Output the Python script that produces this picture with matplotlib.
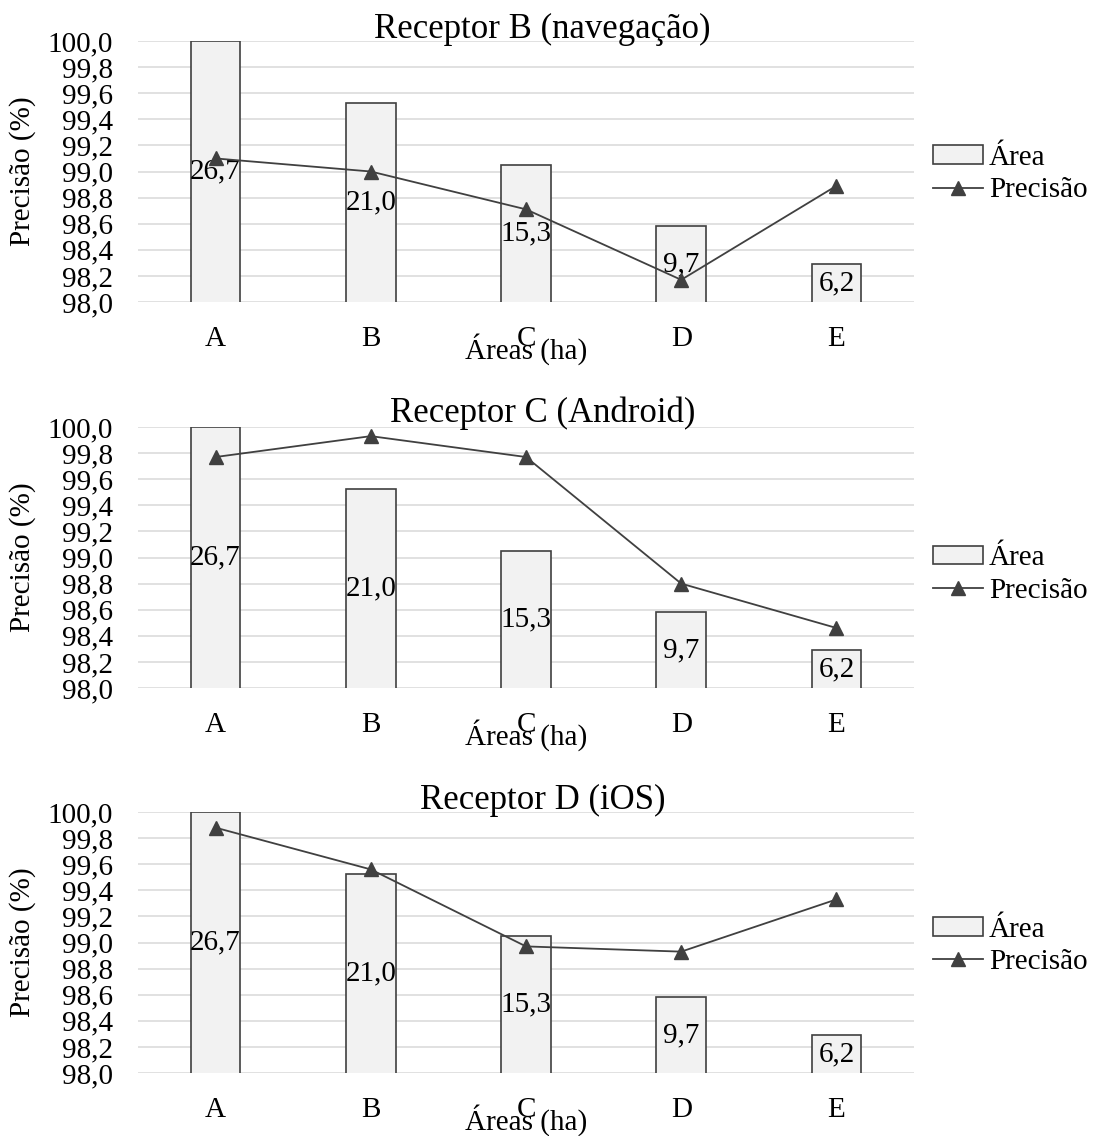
import numpy as np
import matplotlib
matplotlib.use("Agg")
import matplotlib.pyplot as plt
from matplotlib.ticker import FuncFormatter

plt.rcParams['font.family'] = ['Liberation Serif', 'DejaVu Serif']

# Data
categories = ['A', 'B', 'C', 'D', 'E']
areas_ha = [26.7, 21.0, 15.3, 9.7, 6.2]
titles = ['Receptor B (navegação)', 'Receptor C (Android)', 'Receptor D (iOS)']
precisao_b = [99.10, 99.00, 98.71, 98.17, 98.89]
precisao_c = [99.77, 99.93, 99.77, 98.80, 98.46]
precisao_d = [99.88, 99.56, 98.97, 98.93, 99.33]
precisoes = [precisao_b, precisao_c, precisao_d]

# Secondary (area) scale limits
area_min, area_max = 2.7, 26.7

W, H = 1099, 1136
fig = plt.figure(figsize=(W / 100, H / 100), dpi=100)

left, width, height = 138 / W, 776 / W, 261 / H
bottoms = [1 - 302 / H, 1 - 688 / H, 1 - 1073 / H]
title_y = [1.0115, 1.0203, 1.0115]
legend_y = [0.49, 0.435, 0.487]

FS = 21
dark = '#404040'


def virgula(v, _=None):
    return f'{v:.1f}'.replace('.', ',')


x = np.arange(len(categories))

for bottom, title, prec, ty, ly in zip(bottoms, titles, precisoes, title_y, legend_y):
    ax = fig.add_axes([left, bottom, width, height])
    ax.set_xlim(-0.5, len(categories) - 0.5)
    ax.set_ylim(98, 100)
    ax.set_yticks(np.linspace(98, 100, 11))
    ax.yaxis.set_major_formatter(FuncFormatter(virgula))
    ax.set_xticks(x, categories)
    ax.grid(axis='y', color='#d9d9d9', lw=1.1)
    ax.grid(axis='x', visible=False)
    ax.set_axisbelow(True)
    for s in ax.spines.values():
        s.set_visible(False)
    ax.tick_params(axis='y', length=0, pad=18, labelsize=FS)
    ax.tick_params(axis='x', length=0, pad=17.5, labelsize=FS)
    ax.set_ylabel('Precisão (%)', fontsize=FS)
    ax.yaxis.set_label_coords(-0.131, 0.5)
    ax.set_xlabel('Áreas (ha)', fontsize=FS, va='baseline')
    ax.xaxis.set_label_coords(0.5, -0.219)
    ax.text(0.5213, ty, title, transform=ax.transAxes, ha='center',
            va='baseline', fontsize=25)

    # Area bars on their own scale
    axb = ax.twinx()
    axb.set_ylim(area_min, area_max)
    bars = axb.bar(x, areas_ha, width=0.32, color='#f2f2f2',
                   edgecolor=dark, lw=1.2, label='Área')
    for xi, h in zip(x, areas_ha):
        axb.text(xi, (area_min + h) / 2, virgula(h), ha='center',
                 va='center', fontsize=FS, color='black')
    axb.axis('off')

    # Precision line
    axl = ax.twinx()
    axl.set_ylim(98, 100)
    line, = axl.plot(x, prec, color=dark, lw=1.3, marker='^', ms=10,
                     mfc=dark, mec=dark, label='Precisão')
    axl.axis('off')

    axl.legend([bars, line], ['Área', 'Precisão'], loc='center left',
               bbox_to_anchor=(1.0245, ly), frameon=False, borderpad=0,
               borderaxespad=0, handlelength=1.72, handleheight=0.6,
               handletextpad=0.2, labelspacing=0.22, numpoints=1,
               fontsize=FS)

fig.savefig('out.png', dpi=100)
